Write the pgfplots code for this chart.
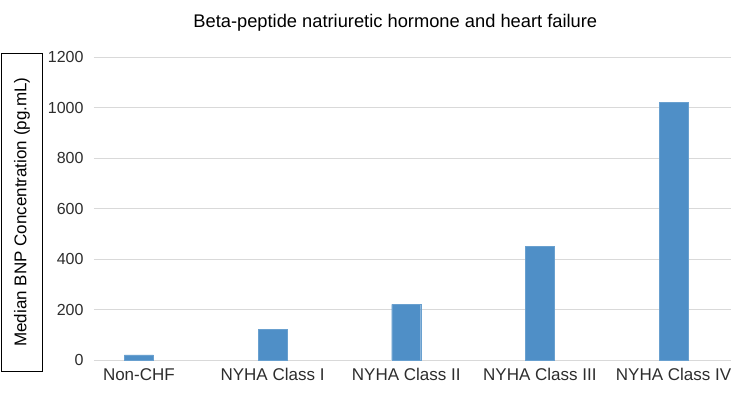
\documentclass[border=0pt]{standalone}
\usepackage{pgfplots}
\pgfplotsset{compat=1.18}
\usepackage{fontspec}
\setmainfont{Liberation Sans}
\definecolor{barblue}{RGB}{79,143,199}
\definecolor{gridgray}{RGB}{217,217,217}
\definecolor{txt}{RGB}{45,45,45}
\begin{document}
\begin{tikzpicture}
\path[use as bounding box] (-94pt,-38pt) rectangle (637pt,360pt);
\begin{axis}[
  at={(0,0)}, anchor=south west,
  scale only axis,
  width=637pt, height=303pt,
  xmin=-0.336, xmax=4.43,
  ymin=0, ymax=1200,
  ytick={0,200,...,1200},
  xtick={0,1,2,3,4},
  xticklabels={Non-CHF,NYHA Class I,NYHA Class II,NYHA Class III,NYHA Class IV},
  ymajorgrids, grid style={gridgray, line width=0.8pt},
  axis x line*=bottom, axis y line*=left,
  x axis line style={gridgray, line width=0.8pt, -},
  y axis line style={draw=none},
  major tick length=0pt,
  tick style={draw=none},
  xticklabel style={font=\fontsize{17}{19}\selectfont, text=txt, yshift=-5pt},
  yticklabel style={font=\fontsize{16}{19}\selectfont, text=txt, xshift=-7pt},
  /pgf/number format/assume math mode=true,
  yticklabel={\pgfmathprintnumber[assume math mode=true,1000 sep={}]{\tick}},
  ylabel={Median BNP Concentration (pg.mL)},
  ylabel style={at={(axis description cs:0,0.5)}, anchor=center, yshift=72pt, xshift=-3.5pt,
    draw=black, line width=0.8pt, minimum width=318pt, minimum height=41pt, inner sep=2pt,
    font=\fontsize{17}{19}\selectfont, text=black},
  title={Beta-peptide natriuretic hormone and heart failure},
  title style={at={(axis description cs:0.473,1.0924)}, anchor=center, font=\fontsize{18.3}{21}\selectfont, text=black},
  clip=false,
]
\addplot[ybar, bar width=29pt, fill=barblue, draw=barblue!85!white] coordinates {(0,20) (1,120) (2,220) (3,450) (4,1020)};
\end{axis}
\end{tikzpicture}
\end{document}
